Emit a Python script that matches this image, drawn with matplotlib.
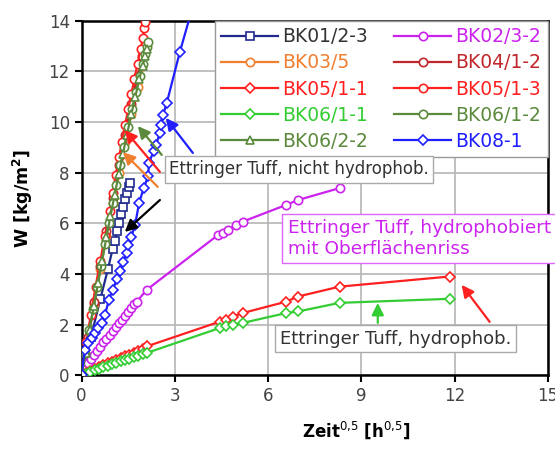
import matplotlib
matplotlib.use("Agg")
import matplotlib.pyplot as plt

# capillary water uptake, W over sqrt(time)
bk01_2_3_x = [0, 0.3, 0.6, 0.85, 1.0, 1.07, 1.14, 1.2, 1.27, 1.33, 1.4, 1.46, 1.52, 1.55]
bk01_2_3_y = [0, 1.5, 3.0, 4.2, 5.0, 5.3, 5.7, 6.0, 6.35, 6.65, 6.95, 7.2, 7.45, 7.6]

bk02_3_2_x = [0, 0.1, 0.2, 0.3, 0.4, 0.5, 0.6, 0.7, 0.8, 0.9, 1.0, 1.1, 1.2, 1.3, 1.4,
              1.5, 1.6, 1.7, 1.77, 2.09, 4.39, 4.55, 4.71, 4.98, 5.19, 6.59, 6.96, 8.3]
bk02_3_2_y = [0, 0.3, 0.5, 0.65, 0.8, 0.95, 1.1, 1.3, 1.45, 1.6, 1.75, 1.9, 2.05, 2.2, 2.35,
              2.5, 2.65, 2.8, 2.9, 3.37, 5.54, 5.61, 5.73, 5.94, 6.07, 6.73, 6.92, 7.39]

bk03_5_x = [0, 0.2, 0.4, 0.6, 0.8, 1.0, 1.2, 1.4, 1.6, 1.8, 1.95]
bk03_5_y = [0, 1.4, 2.8, 4.2, 5.5, 6.8, 8.0, 9.2, 10.3, 11.4, 12.2]

bk04_1_2_x = [0, 0.2, 0.4, 0.6, 0.8, 1.0, 1.2, 1.4, 1.6, 1.8, 1.95]
bk04_1_2_y = [0, 1.5, 2.9, 4.3, 5.7, 7.0, 8.3, 9.5, 10.7, 11.8, 12.6]

low_x = [0, 0.14, 0.28, 0.42, 0.56, 0.7, 0.84, 0.98, 1.12, 1.26, 1.4, 1.54, 1.68, 1.82,
         1.96, 2.09, 4.45, 4.66, 4.87, 5.19, 6.59, 6.96, 8.3, 11.84]
bk05_1_1_y = [0, 0.1, 0.18, 0.26, 0.33, 0.4, 0.47, 0.54, 0.61, 0.68, 0.75, 0.82, 0.89, 0.96,
              1.04, 1.14, 2.12, 2.19, 2.32, 2.46, 2.91, 3.11, 3.5, 3.9]
bk06_1_1_y = [0, 0.07, 0.13, 0.19, 0.25, 0.31, 0.37, 0.43, 0.49, 0.55, 0.6, 0.66, 0.72, 0.78,
              0.83, 0.88, 1.87, 1.93, 1.99, 2.07, 2.46, 2.52, 2.86, 3.02]

bk05_1_3_x = [0, 0.15, 0.3, 0.45, 0.6, 0.75, 0.9, 1.0, 1.1, 1.2, 1.3, 1.4, 1.5, 1.6, 1.7,
              1.8, 1.9, 1.97, 2.02, 2.05]
bk05_1_3_y = [0, 1.3, 2.4, 3.5, 4.5, 5.5, 6.5, 7.2, 7.9, 8.6, 9.2, 9.9, 10.5, 11.1, 11.7,
              12.3, 12.9, 13.3, 13.7, 13.96]

bk06_1_2_x = [0, 0.12, 0.25, 0.37, 0.5, 0.62, 0.75, 0.87, 1.0, 1.12, 1.25, 1.37, 1.5, 1.62,
              1.75, 1.87, 1.97, 2.05, 2.1, 2.14]
bk06_1_2_y = [0, 0.9, 1.8, 2.6, 3.5, 4.3, 5.2, 6.0, 6.8, 7.5, 8.3, 9.0, 9.8, 10.5,
              11.2, 11.8, 12.3, 12.7, 12.95, 13.17]

bk06_2_2_x = [0, 0.13, 0.26, 0.4, 0.53, 0.66, 0.8, 0.93, 1.06, 1.2, 1.33, 1.46, 1.6, 1.73,
              1.86, 1.96, 2.05, 2.1]
bk06_2_2_y = [0, 0.9, 1.8, 2.75, 3.65, 4.5, 5.45, 6.3, 7.1, 7.95, 8.75, 9.5, 10.3, 11.0,
              11.7, 12.2, 12.6, 12.9]

bk08_1_x = [0, 0.1, 0.2, 0.33, 0.43, 0.52, 0.65, 0.75, 0.88, 1.0, 1.14, 1.24, 1.34, 1.45,
            1.5, 1.6, 1.72, 1.85, 2.0, 2.14, 2.17, 2.32, 2.39, 2.52, 2.56, 2.62, 2.74, 3.16, 3.75]
bk08_1_y = [0, 1.0, 1.28, 1.48, 1.67, 1.87, 2.07, 2.38, 2.98, 3.37, 3.8, 4.1, 4.48, 4.82,
            5.15, 5.47, 5.93, 6.8, 7.4, 7.85, 8.4, 8.85, 9.1, 9.55, 9.87, 10.27, 10.75, 12.76, 15.3]

series = [
    ("BK01/2-3", bk01_2_3_x, bk01_2_3_y, "#1f2a8c", "s", "#333333"),
    ("BK02/3-2", bk02_3_2_x, bk02_3_2_y, "#cc22ee", "o", "#cc22ee"),
    ("BK03/5", bk03_5_x, bk03_5_y, "#f07f30", "o", "#f07f30"),
    ("BK04/1-2", bk04_1_2_x, bk04_1_2_y, "#c0262a", "o", "#c0262a"),
    ("BK05/1-1", low_x, bk05_1_1_y, "#ff2020", "D", "#ff2020"),
    ("BK05/1-3", bk05_1_3_x, bk05_1_3_y, "#ff2020", "o", "#ff2020"),
    ("BK06/1-1", low_x, bk06_1_1_y, "#33cc33", "D", "#33cc33"),
    ("BK06/1-2", bk06_1_2_x, bk06_1_2_y, "#5b8a3c", "o", "#5b8a3c"),
    ("BK06/2-2", bk06_2_2_x, bk06_2_2_y, "#5b8a3c", "^", "#5b8a3c"),
    ("BK08-1", bk08_1_x, bk08_1_y, "#1f1fff", "D", "#1f1fff"),
]

fig = plt.figure(figsize=(5.55, 4.5), dpi=100)
ax = fig.add_axes([0.147, 0.166, 0.84, 0.788])

handles = {}
for name, xs, ys, col, mk, tcol in series:
    ms = 5.5 if mk == "D" else 6
    h, = ax.plot(xs, ys, color=col, lw=1.6, marker=mk, ms=ms, mfc="white",
                 mec=col, mew=1.2, label=name, zorder=3)
    handles[name] = h

ax.set_xlim(0, 15)
ax.set_ylim(0, 14)
ax.set_xticks(range(0, 16, 3))
ax.set_yticks(range(0, 15, 2))
ax.grid(True, color="#b5b5b5", lw=1.2, zorder=0)
ax.set_axisbelow(True)
for sp in ax.spines.values():
    sp.set_linewidth(1.8)
ax.tick_params(direction="out", length=5, width=1.5, labelsize=12, labelcolor="#444444")

ax.set_ylabel(r"W [kg/m$^\mathbf{2}$]", fontsize=12.5, fontweight="bold")
ax.yaxis.set_label_coords(-0.10, 0.5)
ax.set_xlabel(r"Zeit$^{0{,}5}$ [h$^{0{,}5}$]", fontsize=12, fontweight="bold")
ax.xaxis.set_label_coords(0.59, -0.125)

# legend, filled row by row like the original
order = ["BK01/2-3", "BK03/5", "BK05/1-1", "BK06/1-1", "BK06/2-2",
         "BK02/3-2", "BK04/1-2", "BK05/1-3", "BK06/1-2", "BK08-1"]
text_colors = {s[0]: s[5] for s in series}
leg = ax.legend([handles[n] for n in order], order, ncol=2, loc="upper right",
                bbox_to_anchor=(1.0, 1.0), fontsize=13.5, numpoints=1,
                handlelength=3.0, handletextpad=0.25, columnspacing=1.4,
                labelspacing=0.38, borderpad=0.35, fancybox=False,
                framealpha=1, edgecolor="#999999", borderaxespad=0.0)
leg.get_frame().set_linewidth(1.0)
leg.set_zorder(5)
for t in leg.get_texts():
    t.set_color(text_colors[t.get_text()])

# annotation boxes
ax.text(2.81, 8.13, "Ettringer Tuff, nicht hydrophob.", fontsize=12, color="#333333",
        ha="left", va="center", zorder=6,
        bbox=dict(boxstyle="square,pad=0.25", fc="white", ec="#aaaaaa", lw=1))
ax.text(6.63, 5.4, "Ettringer Tuff, hydrophobiert\nmit Oberflächenriss", fontsize=13.3,
        color="#cc22ee", ha="left", va="center", linespacing=1.15, zorder=6, clip_on=False,
        bbox=dict(boxstyle="square,pad=0.3", fc="white", ec="#dd66ff", lw=1))
ax.text(6.38, 1.44, "Ettringer Tuff, hydrophob.", fontsize=13, color="#333333",
        ha="left", va="center", zorder=6,
        bbox=dict(boxstyle="square,pad=0.25", fc="white", ec="#aaaaaa", lw=1))

arrows = [
    ((1.39, 5.66), (2.52, 6.92), "black"),
    ((1.33, 8.81), (2.45, 7.44), "#f07f30"),
    ((1.39, 9.68), (2.52, 8.03), "#ff2020"),
    ((1.81, 9.84), (2.58, 8.7), "#5b8a3c"),
    ((2.71, 10.16), (3.58, 8.78), "#1f1fff"),
    ((9.53, 2.86), (9.53, 2.07), "#33cc33"),
    ((12.23, 3.57), (13.13, 2.11), "#ff2020"),
]
for head, tail, col in arrows:
    ax.annotate("", xy=head, xytext=tail, zorder=7,
                arrowprops=dict(arrowstyle="-|>", color=col, lw=1.6,
                                mutation_scale=18, shrinkA=0, shrinkB=0))

fig.savefig("out.png", dpi=100)
